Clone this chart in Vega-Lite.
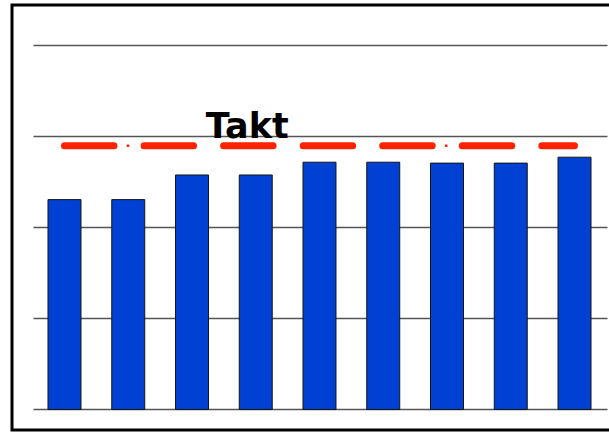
{
  "$schema": "https://vega.github.io/schema/vega-lite/v6.json",
  "autosize": "none",
  "width": 615,
  "height": 425,
  "padding": {"left": 12, "top": 5, "right": 0, "bottom": 2},
  "background": "white",
  "config": {
    "view": {"stroke": "black", "strokeWidth": 3},
    "axis": {"labels": false, "ticks": false, "domain": false, "title": null}
  },
  "datasets": {
    "bars": [
      {"cat": "1", "value": 230},
      {"cat": "2", "value": 230},
      {"cat": "3", "value": 257},
      {"cat": "4", "value": 257},
      {"cat": "5", "value": 271},
      {"cat": "6", "value": 271},
      {"cat": "7", "value": 270},
      {"cat": "8", "value": 270},
      {"cat": "9", "value": 276.5}
    ],
    "takt": [
      {"cat": "1", "takt": 289},
      {"cat": "9", "takt": 289}
    ]
  },
  "encoding": {
    "x": {
      "field": "cat",
      "type": "nominal",
      "sort": null,
      "scale": {"domain": ["1","2","3","4","5","6","7","8","9"], "paddingInner": 0.4824, "paddingOuter": 0.5647},
      "axis": null
    }
  },
  "layer": [
    {
      "data": {"name": "bars"},
      "mark": {"type": "bar", "color": "#0040d2", "stroke": "#151515", "strokeWidth": 1},
      "encoding": {
        "y": {
          "field": "value",
          "type": "quantitative",
          "scale": {"domain": [-22.5, 443.3], "nice": false, "zero": false},
          "axis": {"values": [0, 100, 200, 300, 400], "grid": true, "gridColor": "#555555", "gridWidth": 1.5, "gridDash": [0, 21, 574, 60]}
        }
      }
    },
    {
      "data": {"name": "takt"},
      "mark": {"type": "line", "color": "#ff2200", "strokeWidth": 7, "strokeCap": "round", "strokeDash": [49.5, 30.05]},
      "encoding": {
        "y": {"field": "takt", "type": "quantitative"}
      }
    },
    {
      "data": {"name": "takt"},
      "mark": {"type": "line", "color": "#ff2200", "strokeWidth": 2.5, "strokeCap": "butt", "strokeDash": [2.5, 315.7], "strokeDashOffset": 255.95},
      "encoding": {
        "y": {"field": "takt", "type": "quantitative"}
      }
    },
    {
      "data": {"values": [{"cat": "4", "takt": 289, "label": "Takt"}]},
      "mark": {"type": "text", "font": "DejaVu Sans", "fontWeight": "bold", "fontSize": 35, "color": "black", "align": "center", "baseline": "alphabetic", "dx": -8.5, "dy": -7.3},
      "encoding": {
        "y": {"field": "takt", "type": "quantitative"},
        "text": {"field": "label"}
      }
    }
  ]
}
